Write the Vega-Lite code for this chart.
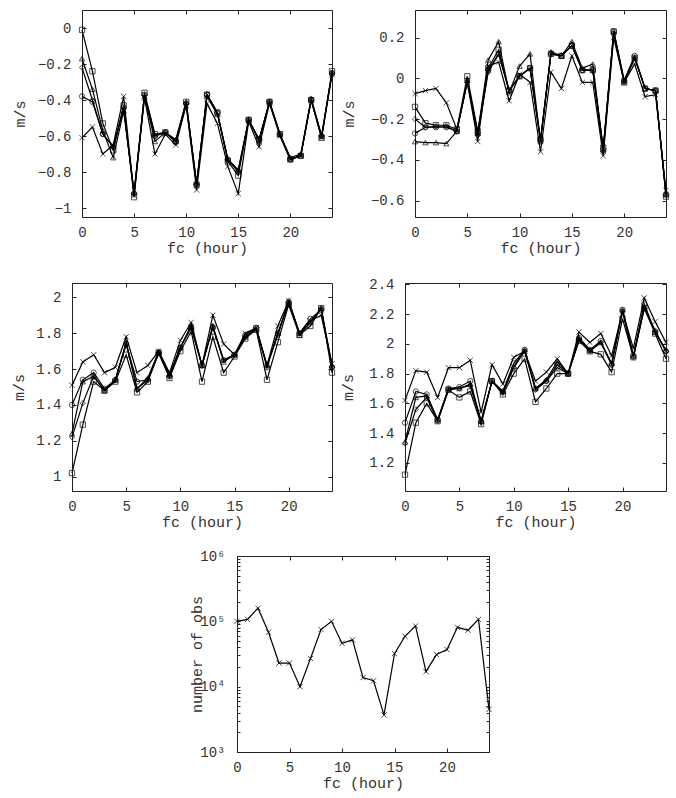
{
"$schema":"https://vega.github.io/schema/vega-lite/v6.json",
"autosize":{"type":"none"},
"padding":{"left":0,"top":10,"right":676,"bottom":788},
"background":"white",
"datasets":{"d":[
{"p":1,"s":"x","f":0,"v":-0.61},{"p":1,"s":"x","f":1,"v":-0.55},{"p":1,"s":"x","f":2,"v":-0.70},{"p":1,"s":"x","f":3,"v":-0.65},{"p":1,"s":"x","f":4,"v":-0.38},{"p":1,"s":"x","f":5,"v":-0.93},{"p":1,"s":"x","f":6,"v":-0.39},{"p":1,"s":"x","f":7,"v":-0.70},{"p":1,"s":"x","f":8,"v":-0.59},{"p":1,"s":"x","f":9,"v":-0.65},{"p":1,"s":"x","f":10,"v":-0.43},{"p":1,"s":"x","f":11,"v":-0.90},{"p":1,"s":"x","f":12,"v":-0.42},{"p":1,"s":"x","f":13,"v":-0.53},{"p":1,"s":"x","f":14,"v":-0.77},{"p":1,"s":"x","f":15,"v":-0.92},{"p":1,"s":"x","f":16,"v":-0.52},{"p":1,"s":"x","f":17,"v":-0.66},{"p":1,"s":"x","f":18,"v":-0.42},{"p":1,"s":"x","f":19,"v":-0.60},{"p":1,"s":"x","f":20,"v":-0.73},{"p":1,"s":"x","f":21,"v":-0.71},{"p":1,"s":"x","f":22,"v":-0.40},{"p":1,"s":"x","f":23,"v":-0.61},{"p":1,"s":"x","f":24,"v":-0.26},
{"p":1,"s":"sq","f":0,"v":-0.01},{"p":1,"s":"sq","f":1,"v":-0.24},{"p":1,"s":"sq","f":2,"v":-0.53},{"p":1,"s":"sq","f":3,"v":-0.68},{"p":1,"s":"sq","f":4,"v":-0.43},{"p":1,"s":"sq","f":5,"v":-0.94},{"p":1,"s":"sq","f":6,"v":-0.36},{"p":1,"s":"sq","f":7,"v":-0.59},{"p":1,"s":"sq","f":8,"v":-0.58},{"p":1,"s":"sq","f":9,"v":-0.63},{"p":1,"s":"sq","f":10,"v":-0.41},{"p":1,"s":"sq","f":11,"v":-0.87},{"p":1,"s":"sq","f":12,"v":-0.37},{"p":1,"s":"sq","f":13,"v":-0.47},{"p":1,"s":"sq","f":14,"v":-0.74},{"p":1,"s":"sq","f":15,"v":-0.82},{"p":1,"s":"sq","f":16,"v":-0.51},{"p":1,"s":"sq","f":17,"v":-0.62},{"p":1,"s":"sq","f":18,"v":-0.41},{"p":1,"s":"sq","f":19,"v":-0.59},{"p":1,"s":"sq","f":20,"v":-0.73},{"p":1,"s":"sq","f":21,"v":-0.71},{"p":1,"s":"sq","f":22,"v":-0.40},{"p":1,"s":"sq","f":23,"v":-0.61},{"p":1,"s":"sq","f":24,"v":-0.24},
{"p":1,"s":"ci","f":0,"v":-0.38},{"p":1,"s":"ci","f":1,"v":-0.41},{"p":1,"s":"ci","f":2,"v":-0.59},{"p":1,"s":"ci","f":3,"v":-0.66},{"p":1,"s":"ci","f":4,"v":-0.44},{"p":1,"s":"ci","f":5,"v":-0.92},{"p":1,"s":"ci","f":6,"v":-0.37},{"p":1,"s":"ci","f":7,"v":-0.60},{"p":1,"s":"ci","f":8,"v":-0.58},{"p":1,"s":"ci","f":9,"v":-0.63},{"p":1,"s":"ci","f":10,"v":-0.42},{"p":1,"s":"ci","f":11,"v":-0.87},{"p":1,"s":"ci","f":12,"v":-0.37},{"p":1,"s":"ci","f":13,"v":-0.47},{"p":1,"s":"ci","f":14,"v":-0.73},{"p":1,"s":"ci","f":15,"v":-0.80},{"p":1,"s":"ci","f":16,"v":-0.51},{"p":1,"s":"ci","f":17,"v":-0.62},{"p":1,"s":"ci","f":18,"v":-0.41},{"p":1,"s":"ci","f":19,"v":-0.59},{"p":1,"s":"ci","f":20,"v":-0.73},{"p":1,"s":"ci","f":21,"v":-0.71},{"p":1,"s":"ci","f":22,"v":-0.40},{"p":1,"s":"ci","f":23,"v":-0.60},{"p":1,"s":"ci","f":24,"v":-0.25},
{"p":1,"s":"tr","f":0,"v":-0.17},{"p":1,"s":"tr","f":1,"v":-0.34},{"p":1,"s":"tr","f":2,"v":-0.57},{"p":1,"s":"tr","f":3,"v":-0.72},{"p":1,"s":"tr","f":4,"v":-0.46},{"p":1,"s":"tr","f":5,"v":-0.91},{"p":1,"s":"tr","f":6,"v":-0.38},{"p":1,"s":"tr","f":7,"v":-0.63},{"p":1,"s":"tr","f":8,"v":-0.58},{"p":1,"s":"tr","f":9,"v":-0.62},{"p":1,"s":"tr","f":10,"v":-0.41},{"p":1,"s":"tr","f":11,"v":-0.86},{"p":1,"s":"tr","f":12,"v":-0.38},{"p":1,"s":"tr","f":13,"v":-0.48},{"p":1,"s":"tr","f":14,"v":-0.73},{"p":1,"s":"tr","f":15,"v":-0.79},{"p":1,"s":"tr","f":16,"v":-0.51},{"p":1,"s":"tr","f":17,"v":-0.63},{"p":1,"s":"tr","f":18,"v":-0.41},{"p":1,"s":"tr","f":19,"v":-0.59},{"p":1,"s":"tr","f":20,"v":-0.72},{"p":1,"s":"tr","f":21,"v":-0.70},{"p":1,"s":"tr","f":22,"v":-0.39},{"p":1,"s":"tr","f":23,"v":-0.60},{"p":1,"s":"tr","f":24,"v":-0.25},
{"p":1,"s":"di","f":0,"v":-0.22},{"p":1,"s":"di","f":1,"v":-0.40},{"p":1,"s":"di","f":2,"v":-0.59},{"p":1,"s":"di","f":3,"v":-0.66},{"p":1,"s":"di","f":4,"v":-0.45},{"p":1,"s":"di","f":5,"v":-0.92},{"p":1,"s":"di","f":6,"v":-0.37},{"p":1,"s":"di","f":7,"v":-0.60},{"p":1,"s":"di","f":8,"v":-0.58},{"p":1,"s":"di","f":9,"v":-0.63},{"p":1,"s":"di","f":10,"v":-0.42},{"p":1,"s":"di","f":11,"v":-0.87},{"p":1,"s":"di","f":12,"v":-0.37},{"p":1,"s":"di","f":13,"v":-0.47},{"p":1,"s":"di","f":14,"v":-0.73},{"p":1,"s":"di","f":15,"v":-0.79},{"p":1,"s":"di","f":16,"v":-0.51},{"p":1,"s":"di","f":17,"v":-0.62},{"p":1,"s":"di","f":18,"v":-0.41},{"p":1,"s":"di","f":19,"v":-0.59},{"p":1,"s":"di","f":20,"v":-0.73},{"p":1,"s":"di","f":21,"v":-0.71},{"p":1,"s":"di","f":22,"v":-0.40},{"p":1,"s":"di","f":23,"v":-0.60},{"p":1,"s":"di","f":24,"v":-0.25},
{"p":2,"s":"x","f":0,"v":-0.075},{"p":2,"s":"x","f":1,"v":-0.06},{"p":2,"s":"x","f":2,"v":-0.05},{"p":2,"s":"x","f":3,"v":-0.12},{"p":2,"s":"x","f":4,"v":-0.25},{"p":2,"s":"x","f":5,"v":-0.02},{"p":2,"s":"x","f":6,"v":-0.31},{"p":2,"s":"x","f":7,"v":0.06},{"p":2,"s":"x","f":8,"v":0.08},{"p":2,"s":"x","f":9,"v":-0.11},{"p":2,"s":"x","f":10,"v":0.02},{"p":2,"s":"x","f":11,"v":-0.02},{"p":2,"s":"x","f":12,"v":-0.36},{"p":2,"s":"x","f":13,"v":0.03},{"p":2,"s":"x","f":14,"v":-0.05},{"p":2,"s":"x","f":15,"v":0.11},{"p":2,"s":"x","f":16,"v":-0.02},{"p":2,"s":"x","f":17,"v":-0.02},{"p":2,"s":"x","f":18,"v":-0.38},{"p":2,"s":"x","f":19,"v":0.20},{"p":2,"s":"x","f":20,"v":-0.02},{"p":2,"s":"x","f":21,"v":0.07},{"p":2,"s":"x","f":22,"v":-0.09},{"p":2,"s":"x","f":23,"v":-0.08},{"p":2,"s":"x","f":24,"v":-0.55},
{"p":2,"s":"sq","f":0,"v":-0.14},{"p":2,"s":"sq","f":1,"v":-0.22},{"p":2,"s":"sq","f":2,"v":-0.23},{"p":2,"s":"sq","f":3,"v":-0.23},{"p":2,"s":"sq","f":4,"v":-0.25},{"p":2,"s":"sq","f":5,"v":0.01},{"p":2,"s":"sq","f":6,"v":-0.26},{"p":2,"s":"sq","f":7,"v":0.05},{"p":2,"s":"sq","f":8,"v":0.14},{"p":2,"s":"sq","f":9,"v":-0.06},{"p":2,"s":"sq","f":10,"v":0.01},{"p":2,"s":"sq","f":11,"v":0.05},{"p":2,"s":"sq","f":12,"v":-0.30},{"p":2,"s":"sq","f":13,"v":0.12},{"p":2,"s":"sq","f":14,"v":0.11},{"p":2,"s":"sq","f":15,"v":0.16},{"p":2,"s":"sq","f":16,"v":0.04},{"p":2,"s":"sq","f":17,"v":0.04},{"p":2,"s":"sq","f":18,"v":-0.34},{"p":2,"s":"sq","f":19,"v":0.23},{"p":2,"s":"sq","f":20,"v":-0.02},{"p":2,"s":"sq","f":21,"v":0.10},{"p":2,"s":"sq","f":22,"v":-0.05},{"p":2,"s":"sq","f":23,"v":-0.06},{"p":2,"s":"sq","f":24,"v":-0.58},
{"p":2,"s":"ci","f":0,"v":-0.27},{"p":2,"s":"ci","f":1,"v":-0.24},{"p":2,"s":"ci","f":2,"v":-0.24},{"p":2,"s":"ci","f":3,"v":-0.24},{"p":2,"s":"ci","f":4,"v":-0.26},{"p":2,"s":"ci","f":5,"v":-0.01},{"p":2,"s":"ci","f":6,"v":-0.27},{"p":2,"s":"ci","f":7,"v":0.04},{"p":2,"s":"ci","f":8,"v":0.12},{"p":2,"s":"ci","f":9,"v":-0.06},{"p":2,"s":"ci","f":10,"v":0.01},{"p":2,"s":"ci","f":11,"v":0.05},{"p":2,"s":"ci","f":12,"v":-0.30},{"p":2,"s":"ci","f":13,"v":0.12},{"p":2,"s":"ci","f":14,"v":0.11},{"p":2,"s":"ci","f":15,"v":0.16},{"p":2,"s":"ci","f":16,"v":0.04},{"p":2,"s":"ci","f":17,"v":0.04},{"p":2,"s":"ci","f":18,"v":-0.35},{"p":2,"s":"ci","f":19,"v":0.23},{"p":2,"s":"ci","f":20,"v":-0.01},{"p":2,"s":"ci","f":21,"v":0.11},{"p":2,"s":"ci","f":22,"v":-0.05},{"p":2,"s":"ci","f":23,"v":-0.06},{"p":2,"s":"ci","f":24,"v":-0.57},
{"p":2,"s":"tr","f":0,"v":-0.31},{"p":2,"s":"tr","f":1,"v":-0.315},{"p":2,"s":"tr","f":2,"v":-0.315},{"p":2,"s":"tr","f":3,"v":-0.32},{"p":2,"s":"tr","f":4,"v":-0.26},{"p":2,"s":"tr","f":5,"v":-0.01},{"p":2,"s":"tr","f":6,"v":-0.27},{"p":2,"s":"tr","f":7,"v":0.09},{"p":2,"s":"tr","f":8,"v":0.18},{"p":2,"s":"tr","f":9,"v":-0.07},{"p":2,"s":"tr","f":10,"v":0.06},{"p":2,"s":"tr","f":11,"v":0.12},{"p":2,"s":"tr","f":12,"v":-0.31},{"p":2,"s":"tr","f":13,"v":0.13},{"p":2,"s":"tr","f":14,"v":0.11},{"p":2,"s":"tr","f":15,"v":0.18},{"p":2,"s":"tr","f":16,"v":0.05},{"p":2,"s":"tr","f":17,"v":0.07},{"p":2,"s":"tr","f":18,"v":-0.35},{"p":2,"s":"tr","f":19,"v":0.23},{"p":2,"s":"tr","f":20,"v":-0.01},{"p":2,"s":"tr","f":21,"v":0.10},{"p":2,"s":"tr","f":22,"v":-0.05},{"p":2,"s":"tr","f":23,"v":-0.06},{"p":2,"s":"tr","f":24,"v":-0.57},
{"p":2,"s":"di","f":0,"v":-0.20},{"p":2,"s":"di","f":1,"v":-0.24},{"p":2,"s":"di","f":2,"v":-0.235},{"p":2,"s":"di","f":3,"v":-0.235},{"p":2,"s":"di","f":4,"v":-0.26},{"p":2,"s":"di","f":5,"v":-0.02},{"p":2,"s":"di","f":6,"v":-0.28},{"p":2,"s":"di","f":7,"v":0.03},{"p":2,"s":"di","f":8,"v":0.12},{"p":2,"s":"di","f":9,"v":-0.06},{"p":2,"s":"di","f":10,"v":0.01},{"p":2,"s":"di","f":11,"v":0.05},{"p":2,"s":"di","f":12,"v":-0.31},{"p":2,"s":"di","f":13,"v":0.12},{"p":2,"s":"di","f":14,"v":0.11},{"p":2,"s":"di","f":15,"v":0.16},{"p":2,"s":"di","f":16,"v":0.04},{"p":2,"s":"di","f":17,"v":0.04},{"p":2,"s":"di","f":18,"v":-0.36},{"p":2,"s":"di","f":19,"v":0.22},{"p":2,"s":"di","f":20,"v":-0.02},{"p":2,"s":"di","f":21,"v":0.10},{"p":2,"s":"di","f":22,"v":-0.05},{"p":2,"s":"di","f":23,"v":-0.06},{"p":2,"s":"di","f":24,"v":-0.57},
{"p":3,"s":"x","f":0,"v":1.51},{"p":3,"s":"x","f":1,"v":1.64},{"p":3,"s":"x","f":2,"v":1.68},{"p":3,"s":"x","f":3,"v":1.58},{"p":3,"s":"x","f":4,"v":1.61},{"p":3,"s":"x","f":5,"v":1.78},{"p":3,"s":"x","f":6,"v":1.58},{"p":3,"s":"x","f":7,"v":1.62},{"p":3,"s":"x","f":8,"v":1.70},{"p":3,"s":"x","f":9,"v":1.58},{"p":3,"s":"x","f":10,"v":1.76},{"p":3,"s":"x","f":11,"v":1.86},{"p":3,"s":"x","f":12,"v":1.62},{"p":3,"s":"x","f":13,"v":1.90},{"p":3,"s":"x","f":14,"v":1.74},{"p":3,"s":"x","f":15,"v":1.68},{"p":3,"s":"x","f":16,"v":1.80},{"p":3,"s":"x","f":17,"v":1.83},{"p":3,"s":"x","f":18,"v":1.62},{"p":3,"s":"x","f":19,"v":1.84},{"p":3,"s":"x","f":20,"v":1.98},{"p":3,"s":"x","f":21,"v":1.80},{"p":3,"s":"x","f":22,"v":1.87},{"p":3,"s":"x","f":23,"v":1.90},{"p":3,"s":"x","f":24,"v":1.63},
{"p":3,"s":"sq","f":0,"v":1.02},{"p":3,"s":"sq","f":1,"v":1.29},{"p":3,"s":"sq","f":2,"v":1.53},{"p":3,"s":"sq","f":3,"v":1.48},{"p":3,"s":"sq","f":4,"v":1.53},{"p":3,"s":"sq","f":5,"v":1.68},{"p":3,"s":"sq","f":6,"v":1.47},{"p":3,"s":"sq","f":7,"v":1.53},{"p":3,"s":"sq","f":8,"v":1.69},{"p":3,"s":"sq","f":9,"v":1.55},{"p":3,"s":"sq","f":10,"v":1.70},{"p":3,"s":"sq","f":11,"v":1.81},{"p":3,"s":"sq","f":12,"v":1.53},{"p":3,"s":"sq","f":13,"v":1.78},{"p":3,"s":"sq","f":14,"v":1.58},{"p":3,"s":"sq","f":15,"v":1.67},{"p":3,"s":"sq","f":16,"v":1.77},{"p":3,"s":"sq","f":17,"v":1.82},{"p":3,"s":"sq","f":18,"v":1.54},{"p":3,"s":"sq","f":19,"v":1.75},{"p":3,"s":"sq","f":20,"v":1.96},{"p":3,"s":"sq","f":21,"v":1.79},{"p":3,"s":"sq","f":22,"v":1.84},{"p":3,"s":"sq","f":23,"v":1.94},{"p":3,"s":"sq","f":24,"v":1.58},
{"p":3,"s":"ci","f":0,"v":1.40},{"p":3,"s":"ci","f":1,"v":1.54},{"p":3,"s":"ci","f":2,"v":1.58},{"p":3,"s":"ci","f":3,"v":1.49},{"p":3,"s":"ci","f":4,"v":1.54},{"p":3,"s":"ci","f":5,"v":1.74},{"p":3,"s":"ci","f":6,"v":1.53},{"p":3,"s":"ci","f":7,"v":1.54},{"p":3,"s":"ci","f":8,"v":1.69},{"p":3,"s":"ci","f":9,"v":1.56},{"p":3,"s":"ci","f":10,"v":1.72},{"p":3,"s":"ci","f":11,"v":1.83},{"p":3,"s":"ci","f":12,"v":1.62},{"p":3,"s":"ci","f":13,"v":1.83},{"p":3,"s":"ci","f":14,"v":1.65},{"p":3,"s":"ci","f":15,"v":1.68},{"p":3,"s":"ci","f":16,"v":1.79},{"p":3,"s":"ci","f":17,"v":1.83},{"p":3,"s":"ci","f":18,"v":1.61},{"p":3,"s":"ci","f":19,"v":1.80},{"p":3,"s":"ci","f":20,"v":1.97},{"p":3,"s":"ci","f":21,"v":1.80},{"p":3,"s":"ci","f":22,"v":1.88},{"p":3,"s":"ci","f":23,"v":1.93},{"p":3,"s":"ci","f":24,"v":1.61},
{"p":3,"s":"tr","f":0,"v":1.24},{"p":3,"s":"tr","f":1,"v":1.53},{"p":3,"s":"tr","f":2,"v":1.56},{"p":3,"s":"tr","f":3,"v":1.48},{"p":3,"s":"tr","f":4,"v":1.54},{"p":3,"s":"tr","f":5,"v":1.75},{"p":3,"s":"tr","f":6,"v":1.49},{"p":3,"s":"tr","f":7,"v":1.55},{"p":3,"s":"tr","f":8,"v":1.70},{"p":3,"s":"tr","f":9,"v":1.57},{"p":3,"s":"tr","f":10,"v":1.72},{"p":3,"s":"tr","f":11,"v":1.84},{"p":3,"s":"tr","f":12,"v":1.62},{"p":3,"s":"tr","f":13,"v":1.84},{"p":3,"s":"tr","f":14,"v":1.64},{"p":3,"s":"tr","f":15,"v":1.68},{"p":3,"s":"tr","f":16,"v":1.78},{"p":3,"s":"tr","f":17,"v":1.82},{"p":3,"s":"tr","f":18,"v":1.62},{"p":3,"s":"tr","f":19,"v":1.80},{"p":3,"s":"tr","f":20,"v":1.97},{"p":3,"s":"tr","f":21,"v":1.79},{"p":3,"s":"tr","f":22,"v":1.86},{"p":3,"s":"tr","f":23,"v":1.94},{"p":3,"s":"tr","f":24,"v":1.62},
{"p":3,"s":"di","f":0,"v":1.22},{"p":3,"s":"di","f":1,"v":1.41},{"p":3,"s":"di","f":2,"v":1.56},{"p":3,"s":"di","f":3,"v":1.48},{"p":3,"s":"di","f":4,"v":1.54},{"p":3,"s":"di","f":5,"v":1.74},{"p":3,"s":"di","f":6,"v":1.49},{"p":3,"s":"di","f":7,"v":1.54},{"p":3,"s":"di","f":8,"v":1.69},{"p":3,"s":"di","f":9,"v":1.56},{"p":3,"s":"di","f":10,"v":1.72},{"p":3,"s":"di","f":11,"v":1.84},{"p":3,"s":"di","f":12,"v":1.62},{"p":3,"s":"di","f":13,"v":1.84},{"p":3,"s":"di","f":14,"v":1.65},{"p":3,"s":"di","f":15,"v":1.68},{"p":3,"s":"di","f":16,"v":1.78},{"p":3,"s":"di","f":17,"v":1.83},{"p":3,"s":"di","f":18,"v":1.62},{"p":3,"s":"di","f":19,"v":1.79},{"p":3,"s":"di","f":20,"v":1.98},{"p":3,"s":"di","f":21,"v":1.80},{"p":3,"s":"di","f":22,"v":1.86},{"p":3,"s":"di","f":23,"v":1.94},{"p":3,"s":"di","f":24,"v":1.61},
{"p":4,"s":"x","f":0,"v":1.62},{"p":4,"s":"x","f":1,"v":1.82},{"p":4,"s":"x","f":2,"v":1.81},{"p":4,"s":"x","f":3,"v":1.64},{"p":4,"s":"x","f":4,"v":1.84},{"p":4,"s":"x","f":5,"v":1.84},{"p":4,"s":"x","f":6,"v":1.89},{"p":4,"s":"x","f":7,"v":1.54},{"p":4,"s":"x","f":8,"v":1.86},{"p":4,"s":"x","f":9,"v":1.73},{"p":4,"s":"x","f":10,"v":1.91},{"p":4,"s":"x","f":11,"v":1.95},{"p":4,"s":"x","f":12,"v":1.75},{"p":4,"s":"x","f":13,"v":1.81},{"p":4,"s":"x","f":14,"v":1.90},{"p":4,"s":"x","f":15,"v":1.80},{"p":4,"s":"x","f":16,"v":2.08},{"p":4,"s":"x","f":17,"v":2.01},{"p":4,"s":"x","f":18,"v":2.07},{"p":4,"s":"x","f":19,"v":1.92},{"p":4,"s":"x","f":20,"v":2.22},{"p":4,"s":"x","f":21,"v":1.97},{"p":4,"s":"x","f":22,"v":2.31},{"p":4,"s":"x","f":23,"v":2.15},{"p":4,"s":"x","f":24,"v":2.01},
{"p":4,"s":"sq","f":0,"v":1.12},{"p":4,"s":"sq","f":1,"v":1.47},{"p":4,"s":"sq","f":2,"v":1.60},{"p":4,"s":"sq","f":3,"v":1.48},{"p":4,"s":"sq","f":4,"v":1.69},{"p":4,"s":"sq","f":5,"v":1.64},{"p":4,"s":"sq","f":6,"v":1.68},{"p":4,"s":"sq","f":7,"v":1.46},{"p":4,"s":"sq","f":8,"v":1.75},{"p":4,"s":"sq","f":9,"v":1.66},{"p":4,"s":"sq","f":10,"v":1.80},{"p":4,"s":"sq","f":11,"v":1.90},{"p":4,"s":"sq","f":12,"v":1.61},{"p":4,"s":"sq","f":13,"v":1.70},{"p":4,"s":"sq","f":14,"v":1.80},{"p":4,"s":"sq","f":15,"v":1.80},{"p":4,"s":"sq","f":16,"v":2.02},{"p":4,"s":"sq","f":17,"v":1.95},{"p":4,"s":"sq","f":18,"v":1.93},{"p":4,"s":"sq","f":19,"v":1.81},{"p":4,"s":"sq","f":20,"v":2.17},{"p":4,"s":"sq","f":21,"v":1.91},{"p":4,"s":"sq","f":22,"v":2.24},{"p":4,"s":"sq","f":23,"v":2.07},{"p":4,"s":"sq","f":24,"v":1.90},
{"p":4,"s":"ci","f":0,"v":1.47},{"p":4,"s":"ci","f":1,"v":1.68},{"p":4,"s":"ci","f":2,"v":1.66},{"p":4,"s":"ci","f":3,"v":1.49},{"p":4,"s":"ci","f":4,"v":1.70},{"p":4,"s":"ci","f":5,"v":1.71},{"p":4,"s":"ci","f":6,"v":1.75},{"p":4,"s":"ci","f":7,"v":1.48},{"p":4,"s":"ci","f":8,"v":1.75},{"p":4,"s":"ci","f":9,"v":1.68},{"p":4,"s":"ci","f":10,"v":1.87},{"p":4,"s":"ci","f":11,"v":1.96},{"p":4,"s":"ci","f":12,"v":1.70},{"p":4,"s":"ci","f":13,"v":1.75},{"p":4,"s":"ci","f":14,"v":1.86},{"p":4,"s":"ci","f":15,"v":1.80},{"p":4,"s":"ci","f":16,"v":2.04},{"p":4,"s":"ci","f":17,"v":1.96},{"p":4,"s":"ci","f":18,"v":2.02},{"p":4,"s":"ci","f":19,"v":1.86},{"p":4,"s":"ci","f":20,"v":2.23},{"p":4,"s":"ci","f":21,"v":1.92},{"p":4,"s":"ci","f":22,"v":2.27},{"p":4,"s":"ci","f":23,"v":2.08},{"p":4,"s":"ci","f":24,"v":1.95},
{"p":4,"s":"tr","f":0,"v":1.34},{"p":4,"s":"tr","f":1,"v":1.64},{"p":4,"s":"tr","f":2,"v":1.65},{"p":4,"s":"tr","f":3,"v":1.49},{"p":4,"s":"tr","f":4,"v":1.70},{"p":4,"s":"tr","f":5,"v":1.70},{"p":4,"s":"tr","f":6,"v":1.73},{"p":4,"s":"tr","f":7,"v":1.48},{"p":4,"s":"tr","f":8,"v":1.75},{"p":4,"s":"tr","f":9,"v":1.68},{"p":4,"s":"tr","f":10,"v":1.85},{"p":4,"s":"tr","f":11,"v":1.96},{"p":4,"s":"tr","f":12,"v":1.70},{"p":4,"s":"tr","f":13,"v":1.76},{"p":4,"s":"tr","f":14,"v":1.88},{"p":4,"s":"tr","f":15,"v":1.80},{"p":4,"s":"tr","f":16,"v":2.04},{"p":4,"s":"tr","f":17,"v":1.96},{"p":4,"s":"tr","f":18,"v":2.01},{"p":4,"s":"tr","f":19,"v":1.87},{"p":4,"s":"tr","f":20,"v":2.23},{"p":4,"s":"tr","f":21,"v":1.92},{"p":4,"s":"tr","f":22,"v":2.25},{"p":4,"s":"tr","f":23,"v":2.08},{"p":4,"s":"tr","f":24,"v":1.96},
{"p":4,"s":"di","f":0,"v":1.33},{"p":4,"s":"di","f":1,"v":1.56},{"p":4,"s":"di","f":2,"v":1.64},{"p":4,"s":"di","f":3,"v":1.48},{"p":4,"s":"di","f":4,"v":1.69},{"p":4,"s":"di","f":5,"v":1.70},{"p":4,"s":"di","f":6,"v":1.72},{"p":4,"s":"di","f":7,"v":1.47},{"p":4,"s":"di","f":8,"v":1.75},{"p":4,"s":"di","f":9,"v":1.67},{"p":4,"s":"di","f":10,"v":1.84},{"p":4,"s":"di","f":11,"v":1.95},{"p":4,"s":"di","f":12,"v":1.69},{"p":4,"s":"di","f":13,"v":1.75},{"p":4,"s":"di","f":14,"v":1.84},{"p":4,"s":"di","f":15,"v":1.80},{"p":4,"s":"di","f":16,"v":2.03},{"p":4,"s":"di","f":17,"v":1.95},{"p":4,"s":"di","f":18,"v":2.01},{"p":4,"s":"di","f":19,"v":1.86},{"p":4,"s":"di","f":20,"v":2.22},{"p":4,"s":"di","f":21,"v":1.91},{"p":4,"s":"di","f":22,"v":2.24},{"p":4,"s":"di","f":23,"v":2.09},{"p":4,"s":"di","f":24,"v":1.95},
{"p":5,"s":"x","f":0,"v":100000},{"p":5,"s":"x","f":1,"v":107000},{"p":5,"s":"x","f":2,"v":159000},{"p":5,"s":"x","f":3,"v":68000},{"p":5,"s":"x","f":4,"v":23000},{"p":5,"s":"x","f":5,"v":23000},{"p":5,"s":"x","f":6,"v":10000},{"p":5,"s":"x","f":7,"v":27000},{"p":5,"s":"x","f":8,"v":75000},{"p":5,"s":"x","f":9,"v":100000},{"p":5,"s":"x","f":10,"v":46000},{"p":5,"s":"x","f":11,"v":52000},{"p":5,"s":"x","f":12,"v":13800},{"p":5,"s":"x","f":13,"v":12300},{"p":5,"s":"x","f":14,"v":3700},{"p":5,"s":"x","f":15,"v":32000},{"p":5,"s":"x","f":16,"v":59000},{"p":5,"s":"x","f":17,"v":85000},{"p":5,"s":"x","f":18,"v":17000},{"p":5,"s":"x","f":19,"v":31000},{"p":5,"s":"x","f":20,"v":37000},{"p":5,"s":"x","f":21,"v":81000},{"p":5,"s":"x","f":22,"v":73000},{"p":5,"s":"x","f":23,"v":107000},{"p":5,"s":"x","f":24,"v":4500}
]},
"vconcat":[
 {"hconcat":[
  {"width":82,"height":207,"data":{"values":[{}]},"mark":{"type":"point","opacity":0},"encoding":{},"view":{"stroke":null}},
  {"width":250,"height":207,"data":{"name":"d"},"transform":[{"filter":"datum.p==1"}],
   "layer":[
    {"mark":{"type":"line","color":"black","strokeWidth":1.2},
     "encoding":{"detail":{"field":"s"},
      "x":{"field":"f","type":"quantitative","scale":{"domain":[0,24],"nice":false},"axis":{"values":[0,5,10,15,20],"title":"fc (hour)"}},
      "y":{"field":"v","type":"quantitative","scale":{"domain":[-1.05,0.1],"nice":false,"zero":false},"axis":{"values":[-1,-0.8,-0.6,-0.4,-0.2,0],"format":"~g","title":"m/s","titlePadding":10}}}},
    {"mark":{"type":"point","filled":false,"color":"black","size":28,"strokeWidth":1},
     "encoding":{
      "x":{"field":"f","type":"quantitative","axis":null},
      "y":{"field":"v","type":"quantitative","axis":null},
      "shape":{"field":"s","scale":{"domain":["x","sq","ci","tr","di"],"range":["M-1,-1L1,1M1,-1L-1,1","square","circle","triangle-up","diamond"]},"legend":null}}},
    {"mark":{"type":"point","opacity":0},
     "encoding":{
      "x":{"field":"f","type":"quantitative","axis":{"orient":"top","labels":false,"title":null,"values":[0,5,10,15,20]}},
      "y":{"field":"v","type":"quantitative","axis":{"orient":"right","labels":false,"title":null,"values":[-1,-0.8,-0.6,-0.4,-0.2,0]}}}}
   ],
   "resolve":{"axis":{"x":"independent","y":"independent"}}},
  {"width":83,"height":207,"data":{"values":[{}]},"mark":{"type":"point","opacity":0},"encoding":{},"view":{"stroke":null}},
  {"width":251,"height":207,"data":{"name":"d"},"transform":[{"filter":"datum.p==2"}],
   "layer":[
    {"mark":{"type":"line","color":"black","strokeWidth":1.2},
     "encoding":{"detail":{"field":"s"},
      "x":{"field":"f","type":"quantitative","scale":{"domain":[0,24],"nice":false},"axis":{"values":[0,5,10,15,20],"title":"fc (hour)"}},
      "y":{"field":"v","type":"quantitative","scale":{"domain":[-0.68,0.335],"nice":false,"zero":false},"axis":{"values":[-0.6,-0.4,-0.2,0,0.2],"format":"~g","title":"m/s","titlePadding":14}}}},
    {"mark":{"type":"point","filled":false,"color":"black","size":28,"strokeWidth":1},
     "encoding":{
      "x":{"field":"f","type":"quantitative","axis":null},
      "y":{"field":"v","type":"quantitative","axis":null},
      "shape":{"field":"s","scale":{"domain":["x","sq","ci","tr","di"],"range":["M-1,-1L1,1M1,-1L-1,1","square","circle","triangle-up","diamond"]},"legend":null}}},
    {"mark":{"type":"point","opacity":0},
     "encoding":{
      "x":{"field":"f","type":"quantitative","axis":{"orient":"top","labels":false,"title":null,"values":[0,5,10,15,20]}},
      "y":{"field":"v","type":"quantitative","axis":{"orient":"right","labels":false,"title":null,"values":[-0.6,-0.4,-0.2,0,0.2]}}}}
   ],
   "resolve":{"axis":{"x":"independent","y":"independent"}}}
 ],"spacing":0,"bounds":"flush"},
 {"hconcat":[
  {"width":72,"height":208,"data":{"values":[{}]},"mark":{"type":"point","opacity":0},"encoding":{},"view":{"stroke":null}},
  {"width":260,"height":208,"data":{"name":"d"},"transform":[{"filter":"datum.p==3"}],
   "layer":[
    {"mark":{"type":"line","color":"black","strokeWidth":1.2},
     "encoding":{"detail":{"field":"s"},
      "x":{"field":"f","type":"quantitative","scale":{"domain":[0,24],"nice":false},"axis":{"values":[0,5,10,15,20],"title":"fc (hour)"}},
      "y":{"field":"v","type":"quantitative","scale":{"domain":[0.92,2.08],"nice":false,"zero":false},"axis":{"values":[1,1.2,1.4,1.6,1.8,2],"format":"~g","title":"m/s","titlePadding":9}}}},
    {"mark":{"type":"point","filled":false,"color":"black","size":28,"strokeWidth":1},
     "encoding":{
      "x":{"field":"f","type":"quantitative","axis":null},
      "y":{"field":"v","type":"quantitative","axis":null},
      "shape":{"field":"s","scale":{"domain":["x","sq","ci","tr","di"],"range":["M-1,-1L1,1M1,-1L-1,1","square","circle","triangle-up","diamond"]},"legend":null}}},
    {"mark":{"type":"point","opacity":0},
     "encoding":{
      "x":{"field":"f","type":"quantitative","axis":{"orient":"top","labels":false,"title":null,"values":[0,5,10,15,20]}},
      "y":{"field":"v","type":"quantitative","axis":{"orient":"right","labels":false,"title":null,"values":[1,1.2,1.4,1.6,1.8,2]}}}}
   ],
   "resolve":{"axis":{"x":"independent","y":"independent"}}},
  {"width":73,"height":208,"data":{"values":[{}]},"mark":{"type":"point","opacity":0},"encoding":{},"view":{"stroke":null}},
  {"width":261,"height":208,"data":{"name":"d"},"transform":[{"filter":"datum.p==4"}],
   "layer":[
    {"mark":{"type":"line","color":"black","strokeWidth":1.2},
     "encoding":{"detail":{"field":"s"},
      "x":{"field":"f","type":"quantitative","scale":{"domain":[0,24],"nice":false},"axis":{"values":[0,5,10,15,20],"title":"fc (hour)"}},
      "y":{"field":"v","type":"quantitative","scale":{"domain":[1.01,2.41],"nice":false,"zero":false},"axis":{"values":[1.2,1.4,1.6,1.8,2,2.2,2.4],"format":"~g","title":"m/s","titlePadding":13}}}},
    {"mark":{"type":"point","filled":false,"color":"black","size":28,"strokeWidth":1},
     "encoding":{
      "x":{"field":"f","type":"quantitative","axis":null},
      "y":{"field":"v","type":"quantitative","axis":null},
      "shape":{"field":"s","scale":{"domain":["x","sq","ci","tr","di"],"range":["M-1,-1L1,1M1,-1L-1,1","square","circle","triangle-up","diamond"]},"legend":null}}},
    {"mark":{"type":"point","opacity":0},
     "encoding":{
      "x":{"field":"f","type":"quantitative","axis":{"orient":"top","labels":false,"title":null,"values":[0,5,10,15,20]}},
      "y":{"field":"v","type":"quantitative","axis":{"orient":"right","labels":false,"title":null,"values":[1.2,1.4,1.6,1.8,2,2.2,2.4]}}}}
   ],
   "resolve":{"axis":{"x":"independent","y":"independent"}}}
 ],"spacing":0,"bounds":"flush"},
 {"hconcat":[
  {"width":237,"height":196,"data":{"values":[{}]},"mark":{"type":"point","opacity":0},"encoding":{},"view":{"stroke":null}},
  {"width":252,"height":196,"data":{"name":"d"},"transform":[{"filter":"datum.p==5"}],
   "layer":[
    {"mark":{"type":"line","color":"black","strokeWidth":1.2},
     "encoding":{
      "x":{"field":"f","type":"quantitative","scale":{"domain":[0,24],"nice":false},"axis":{"values":[0,5,10,15,20],"title":"fc (hour)"}},
      "y":{"field":"v","type":"quantitative","scale":{"type":"log","domain":[1000,1000000],"nice":false},"axis":{"values":[1000,2000,3000,4000,5000,6000,7000,8000,9000,10000,20000,30000,40000,50000,60000,70000,80000,90000,100000,200000,300000,400000,500000,600000,700000,800000,900000,1000000],"tickSize":-3,"labelExpr":"datum.value==1000?'10³':datum.value==10000?'10⁴':datum.value==100000?'10⁵':datum.value==1000000?'10⁶':''","title":"number of obs","titlePadding":-5}}}},
    {"mark":{"type":"point","filled":false,"color":"black","size":28,"strokeWidth":1,"shape":"M-1,-1L1,1M1,-1L-1,1"},
     "encoding":{
      "x":{"field":"f","type":"quantitative","axis":null},
      "y":{"field":"v","type":"quantitative","axis":null}}},
    {"mark":{"type":"point","opacity":0},
     "encoding":{
      "x":{"field":"f","type":"quantitative","axis":{"orient":"top","labels":false,"title":null,"values":[0,5,10,15,20]}},
      "y":{"field":"v","type":"quantitative","axis":{"orient":"right","labels":false,"title":null,"tickSize":-3,"values":[1000,2000,3000,4000,5000,6000,7000,8000,9000,10000,20000,30000,40000,50000,60000,70000,80000,90000,100000,200000,300000,400000,500000,600000,700000,800000,900000,1000000]}}}}
   ],
   "resolve":{"axis":{"x":"independent","y":"independent"}}}
 ],"spacing":0,"bounds":"flush"}
],
"spacing":273,
"bounds":"flush",
"config":{
 "view":{"stroke":"#222","strokeWidth":1},
 "font":"Liberation Mono",
 "axis":{"domain":false,"grid":false,"tickSize":-4,"tickColor":"#222","labelFlush":false,"labelFont":"Liberation Mono","labelFontSize":14,"labelColor":"#333","labelPadding":12,"labelOverlap":false,"titleFont":"Liberation Mono","titleFontSize":15,"titleFontWeight":"normal","titleColor":"#333","titlePadding":1},
 "axisY":{"labelPadding":15}
}
}
